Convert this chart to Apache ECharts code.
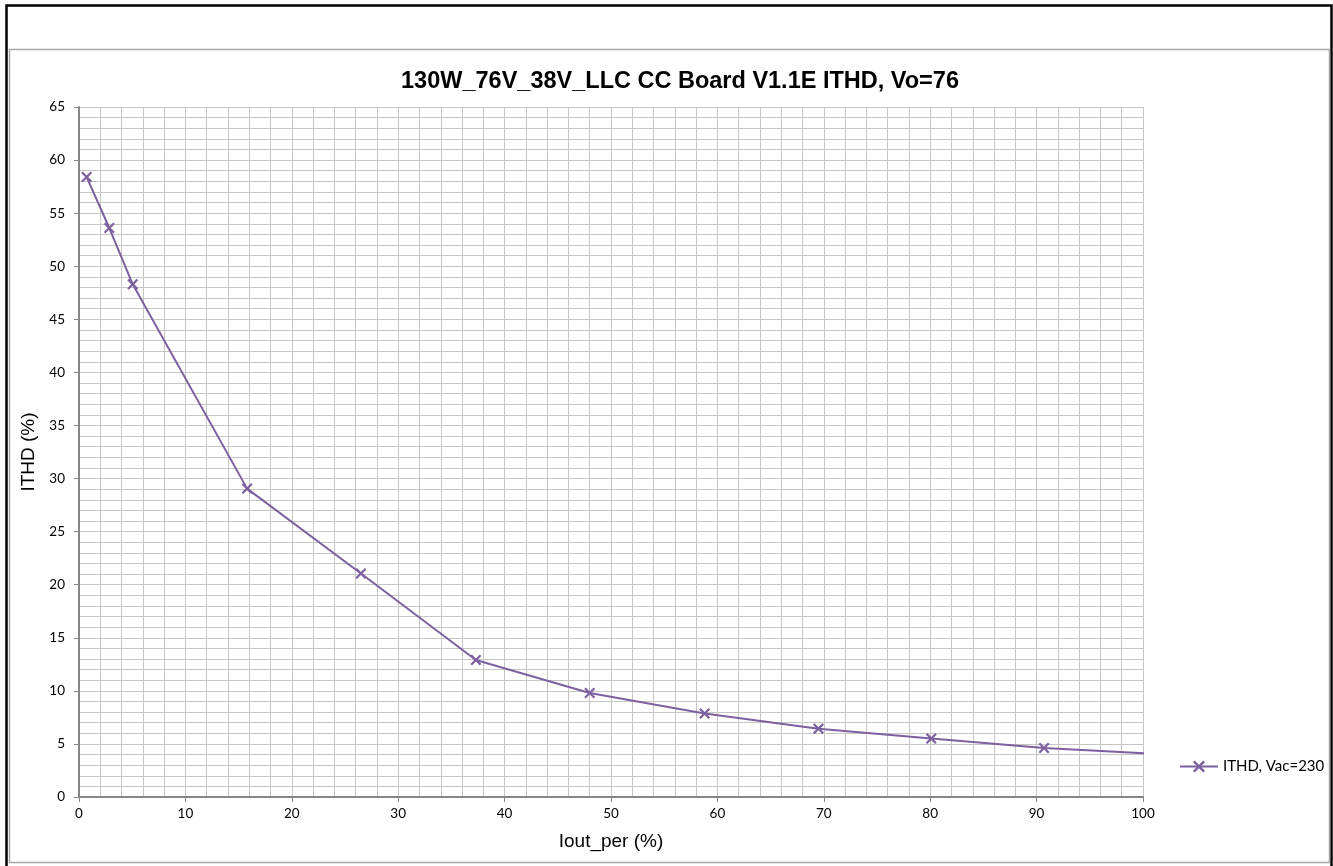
<!DOCTYPE html>
<html>
<head>
<meta charset="utf-8">
<script src="https://cdn.jsdelivr.net/npm/echarts@6/dist/echarts.min.js"></script>
<style>
html,body{margin:0;padding:0;background:#fff;}
#chart{width:1333px;height:866px;}
</style>
</head>
<body>
<div id="chart"></div>
<script>
// Data
var seriesName = 'ITHD, Vac=230';
var iout = [0.72, 2.85, 5.05, 15.8, 26.5, 37.3, 48.0, 58.8, 69.5, 80.1, 90.7, 101.4];
var ithd = [58.4, 53.6, 48.3, 29.05, 21.05, 12.9, 9.8, 7.86, 6.44, 5.5, 4.62, 4.04];
var titleText = '130W_76V_38V_LLC CC Board V1.1E ITHD, Vo=76';
var xName = 'Iout_per (%)';
var yName = 'ITHD (%)';

var points = iout.map(function (x, i) { return [x, ithd[i]]; });
var crossPath = 'path://M1.4,0L5,3.6L8.6,0L10,1.4L6.4,5L10,8.6L8.6,10L5,6.4L1.4,10L0,8.6L3.6,5L0,1.4Z';
var lineColor = '#7D60A0';
var gridColor = '#c6c6c6';
var axisColor = '#868686';
var tickFont = 'Lato, "Open Sans", sans-serif';
var armFont = '"Liberation Sans", Arial, sans-serif';

var chart = echarts.init(document.getElementById('chart'), null, {renderer: 'canvas'});
chart.setOption({
  backgroundColor: '#ffffff',
  animation: false,
  graphic: [
    {type: 'rect', shape: {x: 6.5, y: 5.5, width: 1325, height: 862}, style: {fill: 'none', stroke: '#000', lineWidth: 2.5}, z: 100},
    {type: 'rect', shape: {x: 9.5, y: 49.5, width: 1320, height: 813}, style: {fill: 'none', stroke: '#a6a6a6', lineWidth: 1.5}, z: 100}
  ],
  title: {
    text: titleText,
    left: 675,
    top: 65,
    textAlign: 'center',
    textStyle: {fontFamily: armFont, fontWeight: 'bold', fontSize: 23.5, color: '#000'}
  },
  legend: {
    left: 1174,
    top: 754,
    itemWidth: 38,
    itemHeight: 15,
    itemGap: 5,
    textStyle: {fontFamily: tickFont, fontSize: 15, color: '#000'},
    data: [seriesName]
  },
  grid: {left: 79, top: 107, width: 1064, height: 690, containLabel: false},
  xAxis: {
    type: 'value',
    min: 0, max: 100, interval: 10,
    name: xName, nameLocation: 'middle', nameGap: 35,
    nameTextStyle: {fontFamily: armFont, fontSize: 19, color: '#000'},
    axisLine: {show: true, lineStyle: {color: axisColor, width: 2}},
    axisTick: {show: true, length: 5, lineStyle: {color: axisColor, width: 1}},
    axisLabel: {fontFamily: tickFont, fontSize: 13.5, color: '#000', margin: 10},
    splitLine: {show: true, lineStyle: {color: gridColor, width: 1}},
    minorTick: {show: false, splitNumber: 5},
    minorSplitLine: {show: true, lineStyle: {color: gridColor, width: 1}}
  },
  yAxis: {
    type: 'value',
    min: 0, max: 65, interval: 5,
    name: yName, nameLocation: 'middle', nameGap: 34, nameRotate: 90,
    nameTextStyle: {fontFamily: armFont, fontSize: 19, color: '#000'},
    axisLine: {show: true, lineStyle: {color: axisColor, width: 2}},
    axisTick: {show: true, length: 5, lineStyle: {color: axisColor, width: 1}},
    axisLabel: {fontFamily: tickFont, fontSize: 13.5, color: '#000', margin: 14},
    splitLine: {show: true, lineStyle: {color: gridColor, width: 1}},
    minorTick: {show: false, splitNumber: 5},
    minorSplitLine: {show: true, lineStyle: {color: gridColor, width: 1}}
  },
  series: [{
    name: seriesName,
    type: 'line',
    data: points,
    clip: true,
    symbol: crossPath,
    symbolSize: 11,
    showSymbol: true,
    lineStyle: {color: lineColor, width: 2},
    itemStyle: {color: lineColor, borderWidth: 0},
    emphasis: {disabled: true}
  }]
});
</script>
</body>
</html>
